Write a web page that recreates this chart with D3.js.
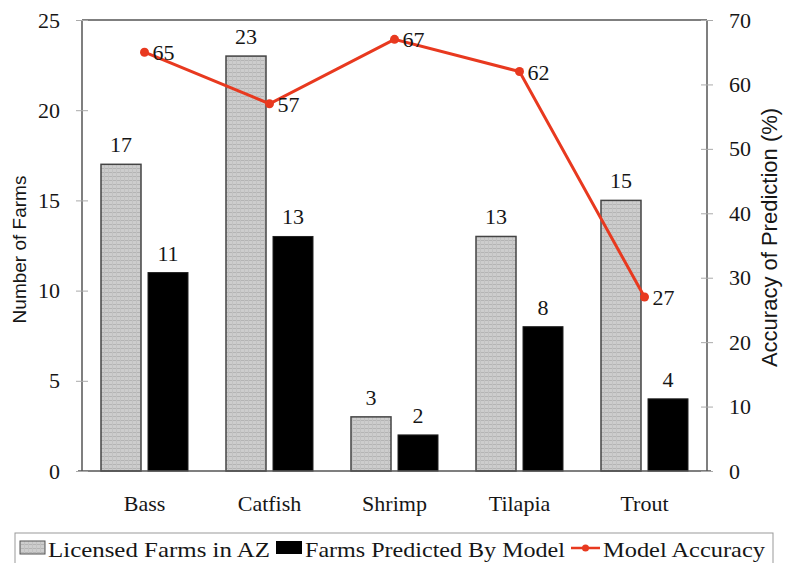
<!DOCTYPE html>
<html><head><meta charset="utf-8">
<script src="https://cdn.jsdelivr.net/npm/d3@7"></script>
<style>body{margin:0;background:#fff}svg{display:block}text{font-family:"Liberation Serif","DejaVu Serif",serif;fill:#161616}text.sans{font-family:"Liberation Sans",Arial,sans-serif}</style>
</head><body>
<svg id="c" width="792" height="563"></svg>
<script>
const categories = ["Bass","Catfish","Shrimp","Tilapia","Trout"];
const licensed = [17,23,3,13,15];
const predicted = [11,13,2,8,4];
const accuracy = [65,57,67,62,27];
const leftTicks = [0,5,10,15,20,25];
const rightTicks = [0,10,20,30,40,50,60,70];
const legendLabels = ["Licensed Farms in AZ","Farms Predicted By Model","Model Accuracy"];

const svg = d3.select("#c");
const L = 82, R = 707, T = 20, B = 471;
const axisColor = "#555";
const red = "#e8391f";
const FS = 22;

const defs = svg.append("defs");
const pat = defs.append("pattern").attr("id","grid").attr("patternUnits","userSpaceOnUse")
  .attr("width",4).attr("height",4);
pat.append("rect").attr("width",4).attr("height",4).attr("fill","#cdcdcd");
pat.append("rect").attr("width",4).attr("height",1).attr("fill","#b4b4b4");
pat.append("rect").attr("width",1).attr("height",4).attr("fill","#c2c2c2");

const x = d3.scaleBand().domain(categories).range([L,R]);
const y = d3.scaleLinear().domain([0,25]).range([B,T]);
const y2 = d3.scaleLinear().domain([0,70]).range([B,T]);
const barW = 40, gap = 7;
const offs = (x.bandwidth() - (2*barW+gap))/2;

// bars
const g = svg.append("g");
g.selectAll(".lic").data(categories).join("rect")
  .attr("x", d => x(d)+offs).attr("y", (d,i)=>y(licensed[i]))
  .attr("width", barW).attr("height", (d,i)=>B-y(licensed[i]))
  .attr("fill","url(#grid)").attr("stroke","#444").attr("stroke-width",1.5);
g.selectAll(".pre").data(categories).join("rect")
  .attr("x", d => x(d)+offs+barW+gap).attr("y", (d,i)=>y(predicted[i]))
  .attr("width", barW).attr("height", (d,i)=>B-y(predicted[i]))
  .attr("fill","#000").attr("stroke","#222").attr("stroke-width",1);

// bar labels
g.selectAll(".ll").data(categories).join("text")
  .attr("x", d => x(d)+offs+barW/2).attr("y",(d,i)=>y(licensed[i])-12)
  .attr("text-anchor","middle").attr("font-size",FS).text((d,i)=>licensed[i]);
g.selectAll(".pl").data(categories).join("text")
  .attr("x", d => x(d)+offs+barW*1.5+gap).attr("y",(d,i)=>y(predicted[i])-12)
  .attr("text-anchor","middle").attr("font-size",FS).text((d,i)=>predicted[i]);

// axes frame
svg.append("line").attr("x1",L).attr("x2",R).attr("y1",T).attr("y2",T).attr("stroke",axisColor).attr("stroke-width",1.5);
svg.append("line").attr("x1",L).attr("x2",L).attr("y1",T).attr("y2",B).attr("stroke",axisColor).attr("stroke-width",1.5);
svg.append("line").attr("x1",R).attr("x2",R).attr("y1",T).attr("y2",B).attr("stroke",axisColor).attr("stroke-width",1.5);
svg.append("line").attr("x1",L-4).attr("x2",R+4).attr("y1",B).attr("y2",B).attr("stroke",axisColor).attr("stroke-width",1.5);

// left axis
const la = svg.append("g").attr("transform",`translate(${L},0)`)
  .call(d3.axisLeft(y).tickValues(leftTicks).tickSize(6).tickPadding(16));
la.select(".domain").remove();
la.selectAll(".tick line").attr("x2",-6).attr("x1",6).attr("stroke","#aaa");
la.selectAll(".tick text").attr("font-size",FS).attr("font-family","Liberation Serif");

const ra = svg.append("g").attr("transform",`translate(${R},0)`)
  .call(d3.axisRight(y2).tickValues(rightTicks).tickSize(6).tickPadding(16));
ra.select(".domain").remove();
ra.selectAll(".tick line").attr("x1",-6).attr("x2",6).attr("stroke","#aaa");
ra.selectAll(".tick text").attr("font-size",FS).attr("font-family","Liberation Serif");

const xa = svg.append("g").attr("transform",`translate(0,${B})`)
  .call(d3.axisBottom(x).tickSize(0).tickPadding(24));
xa.select(".domain").remove();
xa.selectAll(".tick text").attr("font-size",FS).attr("font-family","Liberation Serif");

// axis titles
svg.append("text").attr("class","sans").attr("transform",`translate(26,${(T+B)/2+4}) rotate(-90)`)
  .attr("text-anchor","middle").attr("font-size",19).text("Number of Farms");
svg.append("text").attr("class","sans").attr("transform",`translate(777,${(T+B)/2-8}) rotate(-90)`)
  .attr("text-anchor","middle").attr("font-size",22).text("Accuracy of Prediction (%)");

// line
const cx = d => x(d)+x.bandwidth()/2;
const line = d3.line().x((d,i)=>cx(categories[i])).y(d=>y2(d));
svg.append("path").datum(accuracy).attr("d",line).attr("fill","none").attr("stroke",red).attr("stroke-width",3);
svg.selectAll(".pt").data(accuracy).join("circle")
  .attr("cx",(d,i)=>cx(categories[i])).attr("cy",d=>y2(d)).attr("r",4.5).attr("fill",red);
svg.selectAll(".al").data(accuracy).join("text")
  .attr("x",(d,i)=>cx(categories[i])+8).attr("y",d=>y2(d)+8)
  .attr("font-size",FS).text(d=>d);

// legend
const lg = svg.append("g");
lg.append("rect").attr("x",15).attr("y",533).attr("width",758).attr("height",40)
  .attr("fill","#fff").attr("stroke","#999").attr("stroke-width",1);
lg.append("rect").attr("x",20).attr("y",541).attr("width",25).attr("height",13).attr("fill","url(#grid)").attr("stroke","#555");
lg.append("text").attr("x",48).attr("y",557).attr("font-size",FS).attr("textLength",222).attr("lengthAdjust","spacingAndGlyphs").text(legendLabels[0]);
lg.append("rect").attr("x",276).attr("y",541).attr("width",26).attr("height",13).attr("fill","#000");
lg.append("text").attr("x",305).attr("y",557).attr("font-size",FS).attr("textLength",260).attr("lengthAdjust","spacingAndGlyphs").text(legendLabels[1]);
lg.append("line").attr("x1",571).attr("x2",600).attr("y1",548).attr("y2",548).attr("stroke",red).attr("stroke-width",2.5);
lg.append("circle").attr("cx",585.5).attr("cy",548).attr("r",3.5).attr("fill",red);
lg.append("text").attr("x",603).attr("y",557).attr("font-size",FS).attr("textLength",162).attr("lengthAdjust","spacingAndGlyphs").text(legendLabels[2]);
</script>
</body></html>
